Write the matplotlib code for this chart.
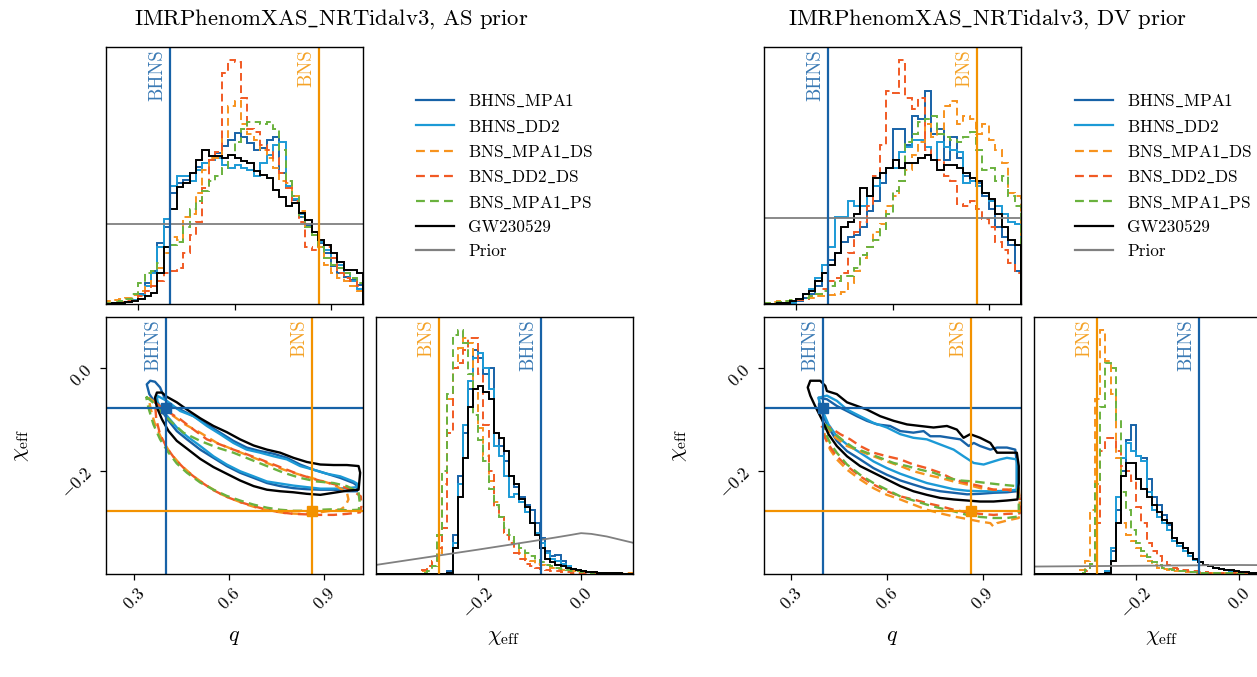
import numpy as np
import matplotlib
matplotlib.use('Agg')
import matplotlib.pyplot as plt
from matplotlib.lines import Line2D
from matplotlib.patches import Polygon
from matplotlib.ticker import FixedLocator, NullLocator, NullFormatter
from matplotlib.font_manager import FontProperties

plt.rcParams['font.family'] = ['cmr10', 'DejaVu Serif']
plt.rcParams['mathtext.fontset'] = 'cm'
plt.rcParams['axes.formatter.use_mathtext'] = True

# underscore: cmr10 maps '_' to a dot accent, so typeset it like LaTeX's \_
try:
    from matplotlib.mathtext import MathTextParser
    MathTextParser('path').parse(r'$\_$', prop=FontProperties(family='cmr10'))
    US = r'$\_$'
except Exception:
    US = '\u02cd'


def tx(s):
    return s.replace('_', US)


# ---------------- data ----------------
series = ['BHNS_MPA1', 'BHNS_DD2', 'BNS_MPA1_DS', 'BNS_DD2_DS', 'BNS_MPA1_PS', 'GW230529']
titles = ['IMRPhenomXAS_NRTidalv3, AS prior', 'IMRPhenomXAS_NRTidalv3, DV prior']

q_range = [0.2, 1.0]
chi_range = [-0.4, 0.1]
q_nbins = 40
chi_nbins = 50

q_truth = {'BHNS': 0.40, 'BNS': 0.862}
chi_truth = {'BHNS': -0.078, 'BNS': -0.277}

q_ticks = [0.3, 0.6, 0.9]
chi_ticks = [-0.2, 0.0]

# q histograms (AS prior)
AS_q_BHNS_MPA1 = [0, 0.3, 0.5, 0.8, 1.5, 4, 8, 13, 23.6, 30, 43, 47, 48.3, 51, 53.5, 54.8, 56, 58.7, 61.3, 64,
                  66.5, 65, 62.6, 60, 60.7, 64, 65, 51, 45.7, 40.5, 34, 30.8, 27, 23.6, 19.8, 14.6, 12, 10.4, 9.4, 7.4]
AS_q_BHNS_DD2 = [0, 0.3, 0.5, 0.8, 1.5, 3.5, 7, 12, 22, 33, 46, 50, 50, 48, 52, 55, 56, 57, 54, 53,
                 54, 53, 52, 50, 55, 58, 62, 63, 46, 41, 35, 31, 28, 24, 21, 18, 15, 12, 9, 6]
AS_q_BNS_MPA1_DS = [1, 1.5, 2, 2.5, 3.5, 5, 6.5, 9, 14, 20, 26, 25, 34, 35, 43, 52, 57, 57, 65, 77,
                    79, 70, 66, 64, 60, 57, 53, 48, 47, 42, 36, 30, 27, 22, 15, 12, 10, 9, 7, 5]
AS_q_BNS_DD2_DS = [0.3, 0.5, 0.8, 1, 2, 3, 5, 7, 9, 12, 13, 14, 20, 27, 32, 45, 56, 59, 90, 95,
                   94, 80, 68, 67, 62, 60, 57, 51, 45, 40, 32, 22, 21, 25, 22, 18, 12, 10, 9, 7]
AS_q_BNS_MPA1_PS = [0.3, 0.6, 1, 2, 4, 8, 12, 13, 16, 22, 23, 24, 30, 37, 40, 44, 48, 50, 53, 58,
                    63, 68, 71, 71, 70, 71, 68, 60, 48, 42, 34, 30, 27, 22, 18, 15, 14, 12, 10, 8]
AS_q_GW230529 = [0, 0.3, 0.5, 0.8, 1.3, 1.8, 3.1, 4.2, 12, 22, 37, 45.7, 47, 51, 56, 60, 57.4, 57.4, 56.8, 58,
                 56.8, 55.5, 54.8, 51.6, 50.3, 49, 44.5, 41.8, 38, 39.3, 35.4, 32.8, 28.2, 25, 23, 19.8, 16.5, 13.3, 13.3, 12]

# chi_eff histograms (AS prior)
AS_chi_BHNS_MPA1 = [0] * 14 + [1, 15, 38, 55, 72, 87, 84, 78, 80, 55, 50, 44, 38, 34, 30, 27, 25, 20, 14, 9,
                              7, 7.5, 5, 3, 2, 1.5, 1, 0.8, 0.6, 0.4, 0.3, 0.3, 0.2, 0.2, 0.1, 0.1]
AS_chi_BHNS_DD2 = [0] * 14 + [0.5, 12, 35, 58, 75, 84, 86, 80, 72, 50, 46, 38, 30, 31, 28, 24, 20, 16, 12, 8,
                             6, 5, 4, 3, 2, 1.5, 1, 0.8, 0.6, 0.4, 0.3, 0.3, 0.2, 0.2, 0.1, 0.1]
AS_chi_BNS_MPA1_DS = [0] * 9 + [1, 3, 5, 8, 35, 68, 80, 88, 92, 90, 72, 57, 46, 36, 28, 22, 16, 13, 10, 8,
                               6, 5, 4, 3.5, 3, 2.5, 2, 1.5, 1.3, 1.1, 1, 0.8, 0.7, 0.6, 0.5, 0.5, 0.4, 0.4, 0.3, 0.3, 0.3]
AS_chi_BNS_DD2_DS = [0] * 9 + [1.5, 3, 5, 10, 18, 55, 80, 82, 87, 92, 92, 78, 58, 40, 26, 22, 15, 12, 8, 6,
                              4, 3, 2.5, 2, 1.5, 1.2, 1, 0.8, 0.6, 0.5, 0.4, 0.3, 0.3, 0.2, 0.2, 0.2, 0.1, 0.1, 0.1, 0.1, 0.1]
AS_chi_BNS_MPA1_PS = [0] * 9 + [0.5, 1, 3, 15, 40, 70, 93, 95, 90, 78, 62, 52, 44, 33, 27, 22, 18, 15, 12, 10,
                               8, 7, 5.5, 4.5, 3.5, 3, 2.5, 2, 1.5, 1.2, 1, 0.8, 0.6, 0.5, 0.4, 0.3, 0.3, 0.2, 0.2, 0.1, 0.1]
AS_chi_GW230529 = [0] * 14 + [0.5, 10, 30, 45, 65, 72, 73, 71, 68, 55, 53, 48, 38, 35, 29, 26, 20, 15, 10, 6,
                             4.5, 3.5, 3, 2.5, 2, 1.5, 1, 0.8, 0.6, 0.5, 0.4, 0.3, 0.2, 0.2, 0.1, 0.1]

# q histograms (DV prior)
DV_q_BHNS_MPA1 = [0, 0, 0, 0.2, 0.5, 1, 2.5, 4, 7, 12, 17, 20, 24, 26, 27, 30, 36, 40, 47, 53,
                  68, 68, 62, 73, 72, 83, 66, 68, 56, 65, 57, 50, 48, 47, 42, 37, 30, 26, 23, 13]
DV_q_BHNS_DD2 = [0, 0, 0, 0.2, 0.5, 1.5, 4, 6, 10, 15, 22, 34, 34, 40, 38, 38, 42, 46, 51, 53,
                 53, 59, 61, 64, 64, 61, 56, 63, 61, 60, 59, 47, 48, 46, 43, 40, 38, 35, 32, 31]
DV_q_BNS_MPA1_DS = [0.5, 0.8, 1, 1.2, 1.5, 2, 2, 2.5, 3, 3, 3.5, 4, 4.5, 8, 13, 18, 22, 28, 31, 38,
                    42, 48, 52, 58, 63, 70, 65, 68, 77, 79, 70, 73, 72, 66, 70, 64, 60, 55, 43, 42]
DV_q_BNS_DD2_DS = [0.2, 0.3, 0.5, 0.8, 1, 1.5, 2, 3, 4, 6, 9, 10, 12, 20, 28, 32, 38, 50, 62, 83,
                   82, 95, 80, 76, 80, 60, 56, 56, 50, 48, 39, 38, 40, 37, 33, 30, 24, 21, 16, 12]
DV_q_BNS_MPA1_PS = [0.3, 0.5, 0.8, 1, 1.5, 2, 2.5, 3, 4, 5, 7, 9, 11, 11, 14, 19, 22, 25, 29, 35,
                    44, 48, 63, 66, 71, 72, 73, 66, 65, 64, 63, 65, 67, 60, 52, 53, 48, 50, 42, 38]
DV_q_GW230529 = [0, 0, 0.2, 0.5, 1, 2, 4, 5, 9, 12, 15, 20, 30, 32, 35, 45, 42, 49, 51, 53,
                 56, 53, 55, 55, 57, 58, 56, 52, 54, 54, 53, 51, 49, 48, 43, 41, 35, 30, 25, 23]

# chi_eff histograms (DV prior)
DV_chi_BHNS_MPA1 = [0] * 14 + [1, 9, 25, 40, 52, 58, 46, 45, 37, 30, 27, 23, 19, 14, 12, 10, 8, 6, 4.5, 3.5,
                              3, 2.5, 2, 1.5, 1, 0.8, 0.6, 0.5, 0.4, 0.3, 0.3, 0.2, 0.2, 0.2, 0.1, 0.1]
DV_chi_BHNS_DD2 = [0] * 14 + [1, 10, 30, 45, 51, 48, 46, 44, 32, 25, 22, 20, 17, 13, 11, 9, 7, 5.5, 4.5, 3.5,
                             3, 2.5, 2, 1.5, 1, 0.8, 0.6, 0.5, 0.4, 0.3, 0.3, 0.2, 0.2, 0.2, 0.1, 0.1]
DV_chi_BNS_MPA1_DS = [0] * 9 + [1.5, 5, 25, 68, 95, 83, 70, 45, 20, 15, 13, 10, 7, 5, 3.5, 2.5, 2, 1.5, 1.2, 1,
                               0.8, 0.6, 0.5, 0.4, 0.4, 0.3, 0.3, 0.3, 0.2, 0.2, 0.2, 0.2, 0.1, 0.1, 0.1, 0.1, 0.1, 0.1, 0.1, 0.1, 0.1]
DV_chi_BNS_DD2_DS = [0] * 10 + [1, 4, 20, 48, 53, 53, 48, 42, 40, 36, 26, 20, 12, 9, 7, 5, 3.5, 2.5, 2, 1.5,
                               1.2, 1, 0.8, 0.6, 0.5, 0.4, 0.3, 0.3, 0.2, 0.2, 0.2, 0.1, 0.1, 0.1, 0.1, 0.1, 0.1, 0.1, 0.1, 0.1]
DV_chi_BNS_MPA1_PS = [0] * 9 + [0.5, 1.5, 4, 35, 65, 82, 80, 60, 32, 25, 17, 12, 9, 6.5, 4.5, 3.5, 2.5, 2, 1.5, 1.2,
                               1, 0.8, 0.6, 0.5, 0.4, 0.3, 0.3, 0.2, 0.2, 0.2, 0.1, 0.1, 0.1, 0.1, 0.1, 0.1, 0.1, 0.1, 0.1, 0.1, 0.1]
DV_chi_GW230529 = [0] * 14 + [0.5, 5, 20, 38, 43, 43, 37, 33, 30, 27, 24, 21, 20, 14, 12, 10, 8, 6, 4.5, 3.5,
                             3, 2.5, 2, 1.7, 1.4, 1.1, 0.9, 0.7, 0.5, 0.4, 0.3, 0.3, 0.2, 0.2, 0.1, 0.1]

# priors
prior_q_grid = [0.2, 1.0]
AS_prior_q = [31.2, 31.2]
DV_prior_q = [33.6, 33.6]
AS_prior_chi_x = [-0.4, -0.3, -0.2, -0.1, -0.05, -0.02, 0.0, 0.02, 0.05, 0.1]
AS_prior_chi = [3.5, 6.5, 9.5, 12.6, 14.2, 15.2, 15.9, 15.6, 14.6, 12.2]
DV_prior_chi_x = [-0.4, -0.2, 0.0, 0.1]
DV_prior_chi = [2.9, 3.2, 3.5, 3.4]

# 90% credible contours in (q, chi_eff) -- AS prior
AS_c_BHNS_MPA1_q = [0.339, 0.350, 0.365, 0.381, 0.397, 0.413, 0.445, 0.487, 0.529, 0.571, 0.613, 0.655, 0.698, 0.740,
                    0.782, 0.824, 0.866, 0.909, 0.951, 0.993, 1.006, 1.004, 0.972, 0.930, 0.888, 0.845, 0.803, 0.761,
                    0.719, 0.677, 0.634, 0.592, 0.550, 0.508, 0.466, 0.434, 0.408, 0.387, 0.365, 0.347]
AS_c_BHNS_MPA1_chi = [-0.031, -0.024, -0.026, -0.037, -0.060, -0.073, -0.080, -0.093, -0.109, -0.125, -0.141, -0.154,
                      -0.161, -0.166, -0.174, -0.187, -0.197, -0.205, -0.213, -0.223, -0.229, -0.239, -0.239, -0.236,
                      -0.236, -0.235, -0.233, -0.229, -0.223, -0.213, -0.203, -0.190, -0.174, -0.158, -0.138, -0.122,
                      -0.102, -0.083, -0.066, -0.050]
AS_c_BHNS_DD2_q = [0.371, 0.402, 0.445, 0.487, 0.529, 0.571, 0.613, 0.655, 0.698, 0.740, 0.782, 0.824, 0.866, 0.909,
                   0.951, 0.993, 1.004, 1.004, 0.972, 0.930, 0.888, 0.845, 0.803, 0.761, 0.719, 0.677, 0.634, 0.592,
                   0.550, 0.508, 0.466, 0.434, 0.408, 0.387, 0.373]
AS_c_BHNS_DD2_chi = [-0.053, -0.063, -0.083, -0.093, -0.112, -0.128, -0.145, -0.158, -0.164, -0.171, -0.177, -0.190,
                     -0.197, -0.205, -0.210, -0.220, -0.224, -0.231, -0.233, -0.234, -0.234, -0.231, -0.228, -0.224,
                     -0.220, -0.210, -0.200, -0.187, -0.171, -0.151, -0.132, -0.115, -0.096, -0.080, -0.065]
AS_c_BNS_MPA1_DS_q = [0.344, 0.376, 0.408, 0.460, 0.508, 0.561, 0.613, 0.666, 0.719, 0.772, 0.824, 0.877, 0.930, 0.972,
                      0.977, 0.967, 0.951, 0.909, 0.866, 0.824, 0.782, 0.740, 0.698, 0.655, 0.613, 0.571, 0.529, 0.487,
                      0.445, 0.413, 0.387, 0.365, 0.352]
AS_c_BNS_MPA1_DS_chi = [-0.057, -0.070, -0.086, -0.109, -0.125, -0.145, -0.158, -0.171, -0.184, -0.197, -0.207, -0.216,
                        -0.226, -0.241, -0.255, -0.268, -0.275, -0.278, -0.282, -0.283, -0.282, -0.278, -0.273, -0.265,
                        -0.255, -0.244, -0.228, -0.210, -0.187, -0.164, -0.138, -0.109, -0.080]
AS_c_BNS_DD2_DS_q = [0.365, 0.402, 0.445, 0.487, 0.529, 0.571, 0.613, 0.655, 0.698, 0.740, 0.782, 0.824, 0.866, 0.909,
                     0.951, 0.993, 1.016, 1.018, 1.014, 0.972, 0.930, 0.888, 0.845, 0.803, 0.761, 0.719, 0.677, 0.634,
                     0.592, 0.550, 0.508, 0.466, 0.429, 0.402, 0.381, 0.369]
AS_c_BNS_DD2_DS_chi = [-0.066, -0.083, -0.099, -0.119, -0.138, -0.148, -0.158, -0.167, -0.177, -0.187, -0.197, -0.207,
                       -0.215, -0.222, -0.228, -0.239, -0.249, -0.268, -0.280, -0.283, -0.285, -0.285, -0.284, -0.283,
                       -0.280, -0.275, -0.268, -0.260, -0.250, -0.237, -0.220, -0.200, -0.177, -0.154, -0.128, -0.099]
AS_c_BNS_MPA1_PS_q = [0.337, 0.360, 0.387, 0.413, 0.455, 0.508, 0.561, 0.613, 0.666, 0.719, 0.772, 0.824, 0.877, 0.930,
                      0.972, 1.009, 1.012, 1.010, 0.972, 0.930, 0.888, 0.845, 0.803, 0.761, 0.719, 0.677, 0.634, 0.592,
                      0.550, 0.508, 0.466, 0.434, 0.408, 0.381, 0.360, 0.344]
AS_c_BNS_MPA1_PS_chi = [-0.055, -0.067, -0.086, -0.102, -0.125, -0.141, -0.154, -0.164, -0.177, -0.190, -0.203, -0.213,
                        -0.220, -0.223, -0.229, -0.241, -0.258, -0.275, -0.276, -0.274, -0.275, -0.277, -0.277, -0.275,
                        -0.271, -0.265, -0.257, -0.248, -0.236, -0.222, -0.203, -0.185, -0.164, -0.138, -0.109, -0.076]
AS_c_GW230529_q = [0.371, 0.387, 0.402, 0.434, 0.466, 0.508, 0.550, 0.592, 0.634, 0.677, 0.719, 0.761, 0.803, 0.845,
                   0.888, 0.930, 0.972, 1.009, 1.014, 1.011, 1.009, 0.972, 0.930, 0.888, 0.845, 0.803, 0.761, 0.719,
                   0.677, 0.634, 0.592, 0.550, 0.508, 0.466, 0.434, 0.408, 0.387, 0.371, 0.365]
AS_c_GW230529_chi = [-0.047, -0.047, -0.055, -0.066, -0.080, -0.097, -0.112, -0.124, -0.138, -0.150, -0.158, -0.164,
                     -0.174, -0.182, -0.187, -0.188, -0.188, -0.190, -0.203, -0.223, -0.236, -0.238, -0.242, -0.246,
                     -0.244, -0.241, -0.239, -0.236, -0.229, -0.218, -0.205, -0.192, -0.176, -0.156, -0.141, -0.122,
                     -0.099, -0.076, -0.057]

# 90% credible contours -- DV prior
DV_c_BHNS_MPA1_q = [0.386, 0.412, 0.443, 0.475, 0.506, 0.537, 0.569, 0.610, 0.642, 0.683, 0.715, 0.736, 0.767, 0.798,
                    0.830, 0.856, 0.872, 0.892, 0.924, 0.945, 0.976, 1.002, 1.007, 1.007, 1.007, 0.976, 0.934, 0.892,
                    0.851, 0.809, 0.767, 0.725, 0.683, 0.642, 0.600, 0.558, 0.516, 0.475, 0.443, 0.417, 0.401, 0.391]
DV_c_BHNS_MPA1_chi = [-0.057, -0.060, -0.073, -0.083, -0.093, -0.102, -0.109, -0.112, -0.122, -0.125, -0.122, -0.132,
                      -0.132, -0.135, -0.138, -0.151, -0.145, -0.151, -0.158, -0.154, -0.154, -0.158, -0.184, -0.210,
                      -0.239, -0.241, -0.242, -0.244, -0.245, -0.242, -0.239, -0.234, -0.226, -0.218, -0.207, -0.194,
                      -0.177, -0.161, -0.141, -0.115, -0.093, -0.073]
DV_c_BHNS_DD2_q = [0.386, 0.412, 0.443, 0.475, 0.516, 0.558, 0.600, 0.642, 0.683, 0.725, 0.767, 0.809, 0.840, 0.872,
                   0.903, 0.934, 0.955, 0.976, 1.007, 1.007, 1.007, 0.976, 0.934, 0.892, 0.851, 0.809, 0.767, 0.725,
                   0.683, 0.642, 0.600, 0.558, 0.516, 0.475, 0.443, 0.417, 0.401, 0.391]
DV_c_BHNS_DD2_chi = [-0.057, -0.053, -0.063, -0.080, -0.093, -0.106, -0.115, -0.128, -0.135, -0.138, -0.148, -0.158,
                     -0.171, -0.184, -0.187, -0.181, -0.177, -0.174, -0.177, -0.210, -0.236, -0.238, -0.239, -0.239,
                     -0.238, -0.235, -0.229, -0.223, -0.214, -0.205, -0.194, -0.181, -0.164, -0.148, -0.132, -0.109,
                     -0.086, -0.070]
DV_c_BNS_MPA1_DS_q = [0.401, 0.433, 0.475, 0.516, 0.558, 0.600, 0.642, 0.683, 0.725, 0.767, 0.809, 0.851, 0.892, 0.934,
                      0.976, 1.013, 1.016, 1.013, 0.976, 0.945, 0.934, 0.924, 0.892, 0.851, 0.809, 0.767, 0.725, 0.683,
                      0.642, 0.600, 0.558, 0.516, 0.475, 0.443, 0.422, 0.407]
DV_c_BNS_MPA1_DS_chi = [-0.112, -0.132, -0.151, -0.161, -0.171, -0.181, -0.190, -0.200, -0.207, -0.213, -0.220, -0.226,
                        -0.233, -0.236, -0.236, -0.233, -0.262, -0.291, -0.296, -0.301, -0.308, -0.301, -0.298, -0.293,
                        -0.288, -0.282, -0.275, -0.265, -0.255, -0.246, -0.233, -0.216, -0.197, -0.177, -0.158, -0.135]
DV_c_BNS_DD2_DS_q = [0.396, 0.422, 0.454, 0.485, 0.516, 0.558, 0.600, 0.642, 0.683, 0.725, 0.767, 0.809, 0.851, 0.892,
                     0.934, 0.976, 1.013, 1.018, 1.016, 0.976, 0.934, 0.892, 0.851, 0.809, 0.767, 0.725, 0.683, 0.642,
                     0.600, 0.558, 0.516, 0.475, 0.443, 0.417, 0.401]
DV_c_BNS_DD2_DS_chi = [-0.112, -0.115, -0.128, -0.138, -0.151, -0.164, -0.171, -0.177, -0.187, -0.194, -0.203, -0.216,
                       -0.223, -0.229, -0.236, -0.236, -0.242, -0.262, -0.282, -0.283, -0.285, -0.283, -0.280, -0.275,
                       -0.268, -0.262, -0.255, -0.249, -0.239, -0.226, -0.210, -0.190, -0.171, -0.148, -0.128]
DV_c_BNS_MPA1_PS_q = [0.407, 0.433, 0.464, 0.495, 0.537, 0.579, 0.621, 0.663, 0.704, 0.746, 0.788, 0.830, 0.872, 0.913,
                      0.955, 1.007, 1.013, 1.013, 0.976, 0.934, 0.892, 0.851, 0.809, 0.767, 0.725, 0.683, 0.642, 0.600,
                      0.558, 0.516, 0.475, 0.443, 0.422, 0.407]
DV_c_BNS_MPA1_PS_chi = [-0.109, -0.125, -0.141, -0.154, -0.164, -0.174, -0.184, -0.190, -0.197, -0.203, -0.213, -0.218,
                        -0.220, -0.223, -0.226, -0.229, -0.249, -0.288, -0.291, -0.291, -0.289, -0.285, -0.278, -0.272,
                        -0.265, -0.257, -0.249, -0.236, -0.223, -0.207, -0.187, -0.164, -0.145, -0.125]
DV_c_GW230529_q = [0.352, 0.360, 0.391, 0.407, 0.412, 0.443, 0.475, 0.506, 0.537, 0.579, 0.621, 0.663, 0.704, 0.746,
                   0.788, 0.819, 0.840, 0.861, 0.892, 0.924, 0.945, 0.976, 1.007, 1.013, 1.013, 1.009, 0.976, 0.934,
                   0.892, 0.851, 0.809, 0.767, 0.725, 0.683, 0.642, 0.600, 0.558, 0.516, 0.475, 0.443, 0.417, 0.396,
                   0.375, 0.360]
DV_c_GW230529_chi = [-0.037, -0.024, -0.024, -0.034, -0.044, -0.050, -0.066, -0.073, -0.080, -0.093, -0.102, -0.109,
                     -0.112, -0.115, -0.112, -0.119, -0.135, -0.128, -0.135, -0.145, -0.164, -0.164, -0.164, -0.190,
                     -0.223, -0.255, -0.257, -0.259, -0.259, -0.257, -0.255, -0.252, -0.246, -0.239, -0.229, -0.216,
                     -0.203, -0.190, -0.171, -0.151, -0.128, -0.099, -0.073, -0.053]

# ---------------- styles ----------------
colors = {'BHNS_MPA1': '#1762a7', 'BHNS_DD2': '#1c9ad6', 'BNS_MPA1_DS': '#f7931e',
          'BNS_DD2_DS': '#f15a24', 'BNS_MPA1_PS': '#6ab23e', 'GW230529': 'black'}
dash = (0, (4, 2.3))
styles = {'BHNS_MPA1': '-', 'BHNS_DD2': '-', 'BNS_MPA1_DS': dash,
          'BNS_DD2_DS': dash, 'BNS_MPA1_PS': dash, 'GW230529': '-'}
prior_color = '#808080'
truth_colors = {'BHNS': '#1762a7', 'BNS': '#f39200'}

W, H = 1257, 677
fig = plt.figure(figsize=(W / 100, H / 100), dpi=100)


def add_ax(x0, y0, x1, y1):
    return fig.add_axes([x0 / W, 1 - y1 / H, (x1 - x0) / W, (y1 - y0) / H])


q_edges = np.linspace(q_range[0], q_range[1], q_nbins + 1)
chi_edges = np.linspace(chi_range[0], chi_range[1], chi_nbins + 1)

panels = [
    dict(prefix='AS', x0=106, q2d=(0.210, 1.023), lx=416, tx=331,
         prior_q=AS_prior_q, prior_cx=AS_prior_chi_x, prior_c=AS_prior_chi),
    dict(prefix='DV', x0=764, q2d=(0.215, 1.020), lx=1075, tx=988,
         prior_q=DV_prior_q, prior_cx=DV_prior_chi_x, prior_c=DV_prior_chi),
]

ann_kw = dict(rotation=90, ha='right', va='top', fontsize=13.5,
              xycoords=('data', 'axes fraction'), textcoords='offset points', xytext=(-2.5, -2))


def style_ticks(ax):
    ax.tick_params(direction='out', length=4, width=0.9, labelsize=12.5)
    for s in ax.spines.values():
        s.set_linewidth(1.0)


for pi, p in enumerate(panels):
    pre = p['prefix']
    x0 = p['x0']
    axq = add_ax(x0, 47, x0 + 257, 304)
    ax2 = add_ax(x0, 317, x0 + 257, 574)
    axc = add_ax(x0 + 269.5, 317, x0 + 526.5, 574)

    # q histogram
    for s in series:
        vals = globals()[f'{pre}_q_{s}']
        axq.stairs(vals, q_edges, color=colors[s], linestyle=styles[s], lw=1.4)
    axq.plot(prior_q_grid, p['prior_q'], color=prior_color, lw=1.3)
    for k in ['BHNS', 'BNS']:
        axq.axvline(q_truth[k], color=truth_colors[k], lw=1.6)
        axq.annotate(k, xy=(q_truth[k], 1), color=truth_colors[k], alpha=0.85, **ann_kw)
    axq.set_xlim(q_range)
    axq.set_ylim(0, 100)
    axq.xaxis.set_major_locator(FixedLocator(q_ticks))
    axq.xaxis.set_major_formatter(NullFormatter())
    axq.yaxis.set_major_locator(NullLocator())
    style_ticks(axq)

    # 2D contours
    for s in series:
        qq = globals()[f'{pre}_c_{s}_q']
        cc = globals()[f'{pre}_c_{s}_chi']
        poly = Polygon(np.column_stack([qq, cc]), closed=True, fill=False,
                       edgecolor=colors[s], linestyle=styles[s], lw=1.7, joinstyle='round')
        ax2.add_patch(poly)
    for k in ['BHNS', 'BNS']:
        ax2.axvline(q_truth[k], color=truth_colors[k], lw=1.6)
        ax2.axhline(chi_truth[k], color=truth_colors[k], lw=1.6)
        ax2.plot([q_truth[k]], [chi_truth[k]], 's', color=truth_colors[k], ms=7)
        ax2.annotate(k, xy=(q_truth[k], 1), color=truth_colors[k], alpha=0.85, **ann_kw)
    ax2.set_xlim(p['q2d'])
    ax2.set_ylim(chi_range)
    ax2.xaxis.set_major_locator(FixedLocator(q_ticks))
    ax2.yaxis.set_major_locator(FixedLocator(chi_ticks))
    style_ticks(ax2)
    for lab in ax2.get_xticklabels():
        lab.set_rotation(45)
    for lab in ax2.get_yticklabels():
        lab.set_rotation(45)
    ax2.set_xlabel(r'$q$', fontsize=16)
    ax2.xaxis.set_label_coords(0.5, -0.21)
    ax2.set_ylabel(r'$\chi_{\rm eff}$', fontsize=16)
    ax2.yaxis.set_label_coords(-0.29, 0.5)

    # chi histogram
    for s in series:
        vals = globals()[f'{pre}_chi_{s}']
        axc.stairs(vals, chi_edges, color=colors[s], linestyle=styles[s], lw=1.4)
    axc.plot(p['prior_cx'], p['prior_c'], color=prior_color, lw=1.3)
    for k in ['BHNS', 'BNS']:
        axc.axvline(chi_truth[k], color=truth_colors[k], lw=1.6)
        axc.annotate(k, xy=(chi_truth[k], 1), color=truth_colors[k], alpha=0.85, **ann_kw)
    axc.set_xlim(chi_range)
    axc.set_ylim(0, 100)
    axc.xaxis.set_major_locator(FixedLocator(chi_ticks))
    axc.yaxis.set_major_locator(NullLocator())
    style_ticks(axc)
    for lab in axc.get_xticklabels():
        lab.set_rotation(45)
    axc.set_xlabel(r'$\chi_{\rm eff}$', fontsize=16)
    axc.xaxis.set_label_coords(0.5, -0.21)

    # title
    fig.text(p['tx'] / W, 1 - 19 / H, tx(titles[pi]), ha='center', va='center', fontsize=16.3)

    # legend
    handles = [Line2D([], [], color=colors[s], linestyle=styles[s], lw=1.6) for s in series]
    handles.append(Line2D([], [], color=prior_color, lw=1.6))
    labels = [tx(s) for s in series] + ['Prior']
    fig.legend(handles, labels, loc='upper left',
               bbox_to_anchor=((p['lx'] - 7) / W, 1 - 86 / H), frameon=False,
               fontsize=12.4, handlelength=2.2, handletextpad=0.85, labelspacing=0.52,
               borderaxespad=0, borderpad=0.4)

fig.savefig('out.png', dpi=100)
